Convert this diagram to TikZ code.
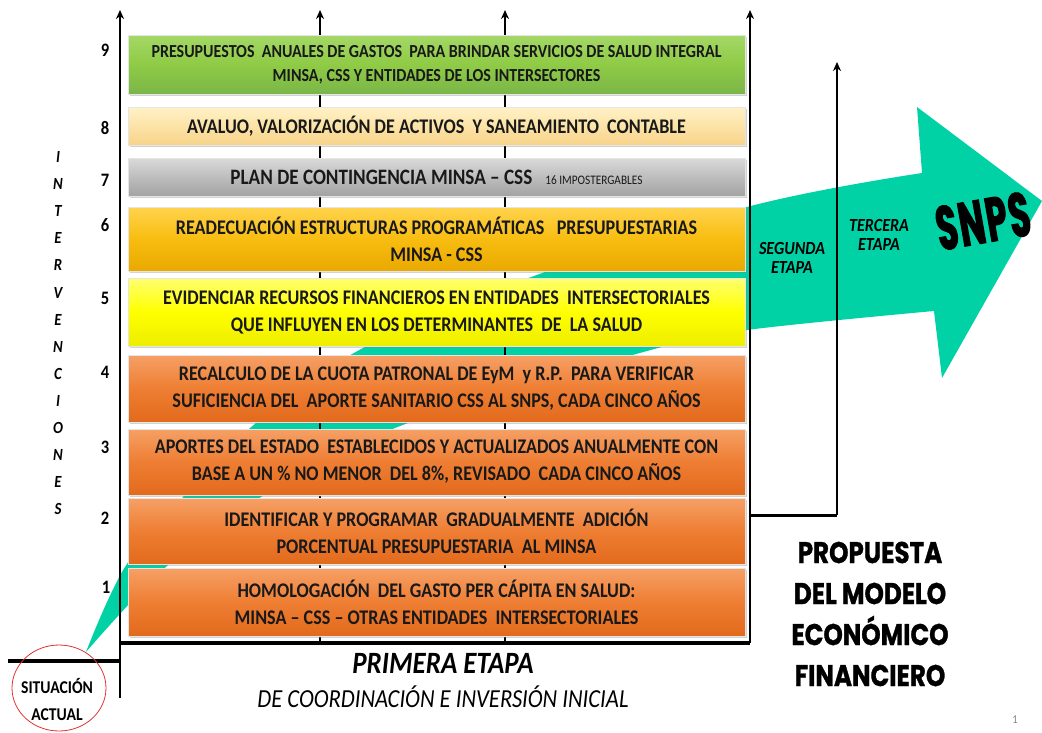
\documentclass[tikz,border=0pt]{standalone}
\usepackage{fontspec}
\setmainfont{Carlito}[FakeStretch=0.87]
\newfontfamily\popf{Poppins}[FakeStretch=0.82,FakeBold=1]
\newfontfamily\snpsf{Poppins}[FakeStretch=0.55,FakeBold=1.6,LetterSpace=3]
\usetikzlibrary{arrows.meta,shadows}
\definecolor{tealA}{HTML}{00D2A6}
\definecolor{grT}{HTML}{A4D867}\definecolor{grM}{HTML}{8FCB45}\definecolor{grB}{HTML}{7AB648}
\definecolor{crT}{HTML}{FFF2C8}\definecolor{crM}{HTML}{FCE3A6}\definecolor{crB}{HTML}{F7D38A}
\definecolor{gyT}{HTML}{DADADA}\definecolor{gyM}{HTML}{BDBDBD}\definecolor{gyB}{HTML}{A3A3A3}
\definecolor{gdT}{HTML}{FFD34D}\definecolor{gdM}{HTML}{F8BD10}\definecolor{gdB}{HTML}{E9A800}
\definecolor{ylT}{HTML}{FFFF70}\definecolor{ylM}{HTML}{FFFF00}\definecolor{ylB}{HTML}{EDED00}
\definecolor{orT}{HTML}{F6A066}\definecolor{orM}{HTML}{EE7E33}\definecolor{orB}{HTML}{E26A1C}
\definecolor{redE}{HTML}{E03030}
\begin{document}
\begin{tikzpicture}[x=1pt,y=-1pt,
  bx/.style={draw=white!80!gray, line width=1pt, minimum width=617pt, inner sep=0pt,
    align=center, font=\fontsize{20.8}{27}\selectfont\bfseries, text=black!90,
    drop shadow={shadow xshift=2pt, shadow yshift=-2pt, opacity=0.35, fill=gray}},
  num/.style={font=\fontsize{19}{19}\selectfont\bfseries},
  vlet/.style={font=\fontsize{17}{17}\selectfont\bfseries\itshape},
  axl/.style={line width=2.6pt, -{Stealth[length=9pt,width=8pt]}},
  frm/.style={line width=3.6pt},
  etp/.style={font=\fontsize{18.5}{18.5}\selectfont\bfseries\itshape, align=center}]
\useasboundingbox (0,0) rectangle (1042,732);

% teal arrow
\fill[tealA] plot[smooth, tension=0.6] coordinates {(86,652) (125,567) (183,497) (256,423) (363,348) (523,280) (747,207) (922,173)}
  -- (917,107) -- (1042,201) -- (942,378) -- (934,311)
  -- plot[smooth, tension=0.6] coordinates {(934,311) (747,330) (658,348) (408,423) (261,497) (167,566) (86,652)} -- cycle;

% coordinates
\coordinate (a1b) at (120,698); \coordinate (a1t) at (120,10);
\coordinate (a2b) at (320,643); \coordinate (a2t) at (320,10);
\coordinate (a3b) at (505,643); \coordinate (a3t) at (505,10);
\coordinate (a4b) at (750,643); \coordinate (a4t) at (750,10);
\coordinate (a5s) at (750,515); \coordinate (a5c) at (837,515); \coordinate (a5t) at (837,62);
\coordinate (hb0) at (120,643);
\coordinate (s0) at (8,661); \coordinate (s1) at (120,661);

\draw[axl] (a2b) -- (a2t);
\draw[axl] (a3b) -- (a3t);

% boxes
\node[bx, top color=grT, bottom color=grB, middle color=grM, minimum height=59pt,
  font=\fontsize{18.4}{24}\selectfont\bfseries] (b9) at (436.5,64.5)
  {PRESUPUESTOS\ \ ANUALES DE GASTOS\ \ PARA BRINDAR SERVICIOS DE SALUD INTEGRAL\\MINSA, CSS Y ENTIDADES DE LOS INTERSECTORES};
\node[bx, top color=crT, bottom color=crB, middle color=crM, minimum height=38pt] (b8) at (436.5,126)
  {AVALUO, VALORIZACIÓN DE ACTIVOS\ \ Y SANEAMIENTO\ \ CONTABLE};
\node[bx, top color=gyT, bottom color=gyB, middle color=gyM, minimum height=38pt,
  font=\fontsize{22}{22}\selectfont\bfseries] (b7) at (436.5,177)
  {PLAN DE CONTINGENCIA MINSA – CSS\ \ \ {\fontsize{13}{13}\selectfont\mdseries 16 IMPOSTERGABLES}};
\node[bx, top color=gdT, bottom color=gdB, middle color=gdM, minimum height=64pt] (b6) at (436.5,239)
  {READECUACIÓN ESTRUCTURAS PROGRAMÁTICAS\ \ \ PRESUPUESTARIAS\\MINSA - CSS};
\node[bx, top color=ylT, bottom color=ylB, middle color=ylM, minimum height=68pt] (b5) at (436.5,312)
  {EVIDENCIAR RECURSOS FINANCIEROS EN ENTIDADES\ \ INTERSECTORIALES\\QUE INFLUYEN EN LOS DETERMINANTES\ \ DE\ \ LA SALUD};
\node[bx, top color=orT, bottom color=orB, middle color=orM, minimum height=67pt] (b4) at (436.5,388.5)
  {RECALCULO DE LA CUOTA PATRONAL DE EyM\ \ y R.P.\ \ PARA VERIFICAR\\SUFICIENCIA DEL\ \ APORTE SANITARIO CSS AL SNPS, CADA CINCO AÑOS};
\node[bx, top color=orT, bottom color=orB, middle color=orM, minimum height=66pt] (b3) at (436.5,462)
  {APORTES DEL ESTADO\ \ ESTABLECIDOS Y ACTUALIZADOS ANUALMENTE CON\\BASE A UN \% NO MENOR\ \ DEL 8\%, REVISADO\ \ CADA CINCO AÑOS};
\node[bx, top color=orT, bottom color=orB, middle color=orM, minimum height=66pt] (b2) at (436.5,531)
  {IDENTIFICAR Y PROGRAMAR\ \ GRADUALMENTE\ \ ADICIÓN\\PORCENTUAL PRESUPUESTARIA\ \ AL MINSA};
\node[bx, top color=orT, bottom color=orB, middle color=orM, minimum height=68pt] (b1) at (436.5,602)
  {HOMOLOGACIÓN\ \ DEL GASTO PER CÁPITA EN SALUD:\\MINSA – CSS – OTRAS ENTIDADES\ \ INTERSECTORIALES};

% frame and axes
\draw[axl] (a1b) -- (a1t);
\draw[axl] (a4b) -- (a4t);
\draw[frm] (hb0) -- (a4b);
\draw[frm] (s0) -- (s1);
\draw[line width=3pt] (a5s) -- (a5c);
\draw[axl] (a5c) -- (a5t);

% numbers
\node[num] (n9) at (105,50) {9};
\node[num] (n8) at (105,128) {8};
\node[num] (n7) at (105,180) {7};
\node[num] (n6) at (105,225) {6};
\node[num] (n5) at (105,298) {5};
\node[num] (n4) at (105,372) {4};
\node[num] (n3) at (105,447) {3};
\node[num] (n2) at (105,518) {2};
\node[num] (n1) at (106,587) {1};

% INTERVENCIONES
\foreach \l [count=\i from 0] in {I,N,T,E,R,V,E,N,C,I,O,N,E,S}
  \node[vlet] (v\i) at (58,157+27.1*\i) {\l};

% stage labels
\node[etp] (seg) at (792,258) {SEGUNDA\\[1pt]ETAPA};
\node[etp] (ter) at (879,235) {TERCERA\\[1pt]ETAPA};
\node[font=\snpsf\fontsize{62}{62}\selectfont\bfseries, rotate=10, inner sep=0pt] (snps) at (983,221) {SNPS};

\node[font=\fontsize{31}{31}\selectfont\bfseries\itshape] (prim) at (443,663) {PRIMERA ETAPA};
\node[font=\fontsize{26}{26}\selectfont\itshape] (coord) at (443,697) {DE COORDINACIÓN E INVERSIÓN INICIAL};

\node[font=\popf\fontsize{30}{41}\selectfont\bfseries, align=center] (prop) at (870,614)
  {PROPUESTA\\DEL MODELO\\ECONÓMICO\\FINANCIERO};

% situacion actual
\node[font=\fontsize{18}{27}\selectfont\bfseries, align=center] (sit) at (57,699) {SITUACIÓN\\ACTUAL};
\draw[redE, line width=0.8pt] (59,688) ellipse [x radius=47, y radius=43];

\node[font=\fontsize{12}{12}\selectfont, text=gray] (pg) at (1015,720) {1};
\end{tikzpicture}
\end{document}
